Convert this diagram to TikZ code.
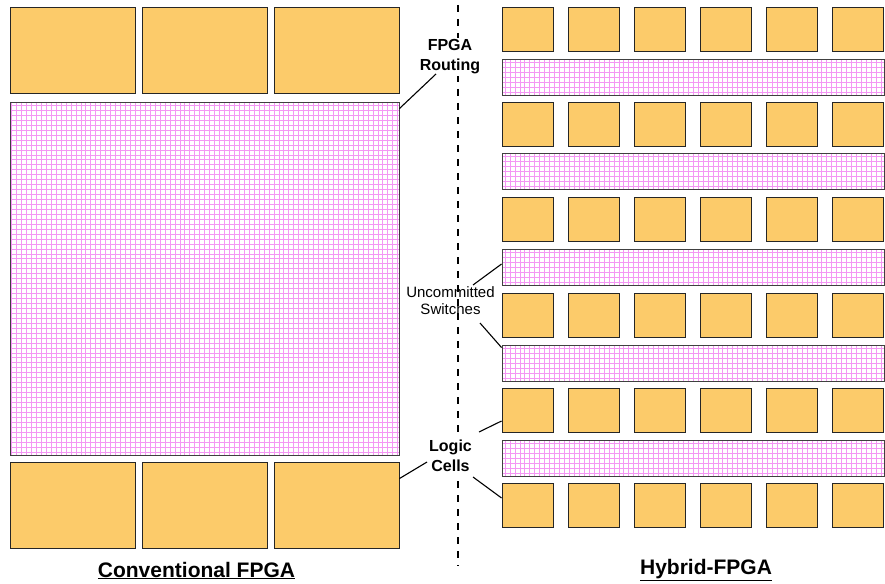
\documentclass[tikz,border=0pt]{standalone}
\usepackage{fontspec}
\setmainfont{Liberation Sans}
\usetikzlibrary{calc}
\definecolor{cellfill}{RGB}{252,203,106}
\definecolor{gridpink}{RGB}{244,150,244}
\tikzset{
  cellbox/.style={draw=black!85, line width=0.9pt, fill=cellfill, inner sep=0pt},
  routebox/.style={draw=black!75, line width=0.9pt, fill=white, inner sep=0pt,
    path picture={\draw[gridpink, line width=0.5pt, step=4.95pt]
      (path picture bounding box.south west) grid (path picture bounding box.north east);}},
  leader/.style={line width=1.1pt, black},
  lbl/.style={align=center, inner sep=2pt, fill=white, font=\bfseries\fontsize{16}{20}\selectfont},
  title/.style={inner sep=0pt, font=\bfseries\fontsize{21}{24}\selectfont}
}
\begin{document}
\begin{tikzpicture}[x=1pt,y=-1pt]
\useasboundingbox[fill=white] (0,0) rectangle (885,583);
% left side
\foreach \i/\x in {1/72.5,2/204.5,3/336.5}{
  \node[cellbox, minimum width=125pt, minimum height=86pt] (lt\i) at (\x,50) {};
  \node[cellbox, minimum width=125pt, minimum height=86pt] (lb\i) at (\x,505) {};
}
\node[routebox, minimum width=389pt, minimum height=353pt] (bigroute) at (204.5,278.5) {};
% right side
\foreach \r/\y in {1/29,2/124,3/219.5,4/315,5/410.5,6/505.5}{
  \foreach \c/\x in {1/527.5,2/593.5,3/659.5,4/725.5,5/791.5,6/857.5}{
    \node[cellbox, minimum width=51pt, minimum height=44pt] (c\r\c) at (\x,\y) {};
  }
}
\foreach \s/\y in {1/77,2/171.5,3/267.5,4/363,5/458}{
  \node[routebox, minimum width=382pt, minimum height=36pt] (s\s) at (693,\y) {};
}
% divider
\coordinate (dtop) at (458,5);
\coordinate (dbot) at (458,566);
\draw[line width=1.6pt, dash pattern=on 7pt off 7pt] (dtop) -- (dbot);
% labels
\node[lbl] (lroute) at (450,57) {FPGA\\Routing};
\node[align=center, inner sep=0pt, font=\fontsize{15}{17}\selectfont] (lsw) at (450.5,301) {Uncommitted\\Switches};
\node[lbl] (llogic) at (450.5,456) {Logic\\Cells};
\draw[leader] ($(lroute.center)+(-14,17)$) -- ($(bigroute.north east)+(0,7)$);
\draw[leader] ($(lsw.center)+(22.5,-16)$) -- ($(s3.west)+(0,-3.5)$);
\draw[leader] ($(lsw.center)+(29.5,22)$) -- ($(s4.north west)+(0,3)$);
\draw[leader] ($(llogic.center)+(-23.5,6)$) -- ($(lb3.north east)+(0,17)$);
\draw[leader] ($(llogic.center)+(28.5,-24)$) -- ($(c51.west)+(0,10.5)$);
\draw[leader] ($(llogic.center)+(22.5,21)$) -- ($(c61.west)+(0,-7.5)$);
% titles
\node[title, anchor=base] (tconv) at (196.5,577) {\underline{Conventional FPGA}};
\node[title, anchor=base] (thyb) at (706,574) {\underline{Hybrid-FPGA}};
\end{tikzpicture}
\end{document}
